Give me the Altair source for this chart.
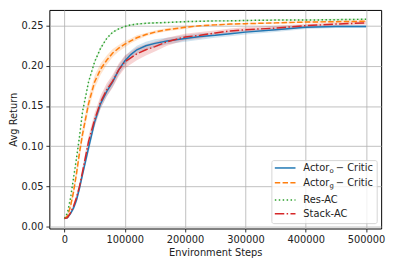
import altair as alt
import pandas as pd

steps = [0, 5000, 10000, 15000, 20000, 25000, 30000, 40000, 50000, 60000, 70000,
         80000, 90000, 100000, 110000, 120000, 135000, 150000, 170000, 200000,
         225000, 250000, 275000, 300000, 350000, 400000, 450000, 500000]

actor_o = [0.010, 0.011, 0.016, 0.023, 0.033, 0.048, 0.065, 0.098, 0.130, 0.153, 0.168,
           0.180, 0.195, 0.206, 0.214, 0.220, 0.225, 0.228, 0.231, 0.234,
           0.2365, 0.238, 0.240, 0.242, 0.245, 0.248, 0.249, 0.249]
actor_o_sd = [0.000, 0.001, 0.002, 0.003, 0.004, 0.005, 0.005, 0.006, 0.006, 0.006, 0.006,
              0.006, 0.006, 0.006, 0.005, 0.005, 0.005, 0.005, 0.004, 0.004,
              0.004, 0.003, 0.003, 0.003, 0.003, 0.002, 0.002, 0.002]

actor_g = [0.010, 0.013, 0.025, 0.043, 0.066, 0.092, 0.115, 0.153, 0.180, 0.196, 0.207,
           0.216, 0.222, 0.227, 0.231, 0.235, 0.239, 0.242, 0.245, 0.248,
           0.250, 0.251, 0.252, 0.2525, 0.2535, 0.2545, 0.255, 0.2555]
actor_g_sd = [0.000, 0.002, 0.004, 0.006, 0.007, 0.008, 0.008, 0.008, 0.008, 0.007, 0.006,
              0.005, 0.004, 0.004, 0.003, 0.003, 0.002, 0.002, 0.002, 0.002,
              0.001, 0.001, 0.001, 0.001, 0.001, 0.001, 0.001, 0.001]

res_ac = [0.010, 0.017, 0.035, 0.060, 0.085, 0.112, 0.143, 0.180, 0.205, 0.222, 0.234,
          0.242, 0.246, 0.249, 0.251, 0.252, 0.253, 0.2535, 0.254, 0.255,
          0.2555, 0.256, 0.256, 0.2565, 0.257, 0.257, 0.2575, 0.258]
res_ac_sd = [0.000, 0.001, 0.001, 0.002, 0.002, 0.002, 0.002, 0.002, 0.002, 0.002, 0.001,
             0.001, 0.001, 0.001, 0.001, 0.001, 0.001, 0.001, 0.001, 0.001,
             0.001, 0.001, 0.001, 0.001, 0.001, 0.001, 0.001, 0.001]

stack_ac = [0.010, 0.011, 0.017, 0.025, 0.036, 0.050, 0.068, 0.106, 0.133, 0.155, 0.170,
            0.181, 0.195, 0.205, 0.210, 0.215, 0.220, 0.224, 0.230, 0.236,
            0.238, 0.241, 0.2435, 0.245, 0.247, 0.250, 0.252, 0.2535]
stack_ac_sd = [0.000, 0.001, 0.002, 0.003, 0.004, 0.005, 0.006, 0.007, 0.008, 0.008, 0.008,
               0.008, 0.008, 0.008, 0.008, 0.008, 0.007, 0.006, 0.005, 0.004,
               0.004, 0.003, 0.003, 0.003, 0.003, 0.002, 0.002, 0.002]

series = [
    ("Actor_o", actor_o, actor_o_sd, "#1f77b4", []),
    ("Actor_g", actor_g, actor_g_sd, "#ff7f0e", [5.5, 2.4]),
    ("Res-AC", res_ac, res_ac_sd, "#2ca02c", [1.5, 2.5]),
    ("Stack-AC", stack_ac, stack_ac_sd, "#d62728", [9.6, 2.4, 1.5, 2.4]),
]

x_scale = alt.Scale(domain=[-25000, 525000], nice=False, zero=False)
y_scale = alt.Scale(domain=[-0.00245, 0.2696], nice=False, zero=False)

x_axis = alt.Axis(values=[0, 100000, 200000, 300000, 400000, 500000], format="d",
                  title="Environment Steps", titlePadding=3)
y_axis = alt.Axis(values=[0.0, 0.05, 0.10, 0.15, 0.20, 0.25], format=".2f",
                  title="Avg Return", titleX=-36, titleY=111, titleAlign="center",
                  titleBaseline="middle", titleAngle=-90)

bands = []
lines = []
for name, vals, sd, col, dash in series:
    df = pd.DataFrame({
        "step": steps,
        "val": vals,
        "lo": [v - s for v, s in zip(vals, sd)],
        "hi": [v + s for v, s in zip(vals, sd)],
    })
    base = alt.Chart(df)
    bands.append(base.mark_area(color=col, opacity=0.2).encode(
        x=alt.X("step:Q", scale=x_scale, axis=x_axis),
        y=alt.Y("lo:Q", scale=y_scale, axis=y_axis),
        y2="hi:Q",
    ))
    lk = dict(color=col, strokeWidth=1.5)
    if dash:
        lk["strokeDash"] = dash
    lines.append(base.mark_line(**lk).encode(
        x=alt.X("step:Q", scale=x_scale, axis=x_axis),
        y=alt.Y("val:Q", scale=y_scale, axis=y_axis),
    ))

one = pd.DataFrame({"a": [0]})
legend_layers = [
    alt.Chart(one).mark_rect(fill="white", opacity=0.8, stroke="#cccccc",
                             strokeWidth=1, cornerRadius=2).encode(
        x=alt.value(226), x2=alt.value(333), y=alt.value(153), y2=alt.value(217))
]
rows = [160.5, 175.5, 193, 207]
font = "DejaVu Sans"
for (name, vals, sd, col, dash), ry in zip(series, rows):
    rk = dict(color=col, strokeWidth=1.5)
    if dash:
        rk["strokeDash"] = dash
    legend_layers.append(alt.Chart(one).mark_rule(**rk).encode(
        x=alt.value(229), x2=alt.value(250), y=alt.value(ry)))
for ry, txt in [(193, "Res-AC"), (207, "Stack-AC")]:
    legend_layers.append(alt.Chart(one).mark_text(
        align="left", baseline="middle", font=font, fontSize=10, color="#222").encode(
        x=alt.value(258), y=alt.value(ry), text=alt.value(txt)))
for ry, sub in [(160.5, "o"), (175.5, "g")]:
    legend_layers.append(alt.Chart(one).mark_text(
        align="left", baseline="middle", font=font, fontSize=10, color="#222").encode(
        x=alt.value(258), y=alt.value(ry), text=alt.value("Actor")))
    legend_layers.append(alt.Chart(one).mark_text(
        align="left", baseline="middle", font=font, fontSize=7, color="#222").encode(
        x=alt.value(284.5), y=alt.value(ry + 3), text=alt.value(sub)))
    legend_layers.append(alt.Chart(one).mark_text(
        align="left", baseline="middle", font=font, fontSize=10, color="#222").encode(
        x=alt.value(291), y=alt.value(ry), text=alt.value("\u2212 Critic")))

chart = alt.layer(*bands, *lines, *legend_layers).properties(
    width=337, height=222,
    autosize=alt.AutoSizeParams(type="none"),
    padding={"left": 42, "top": 0, "right": 10, "bottom": 30},
).configure(font=font).configure_view(
    stroke="black", strokeWidth=1
).configure_axis(
    labelFont=font, titleFont=font, labelFontSize=10, titleFontSize=10,
    labelColor="#222", titleColor="#222", titleFontWeight="normal",
    grid=True, gridColor="#b0b0b0", gridWidth=0.8,
    domain=False, tickColor="black", tickSize=3.5, tickWidth=0.8, labelPadding=3,
)

chart.save("out.html", embed_options={"renderer": "svg", "actions": False})
